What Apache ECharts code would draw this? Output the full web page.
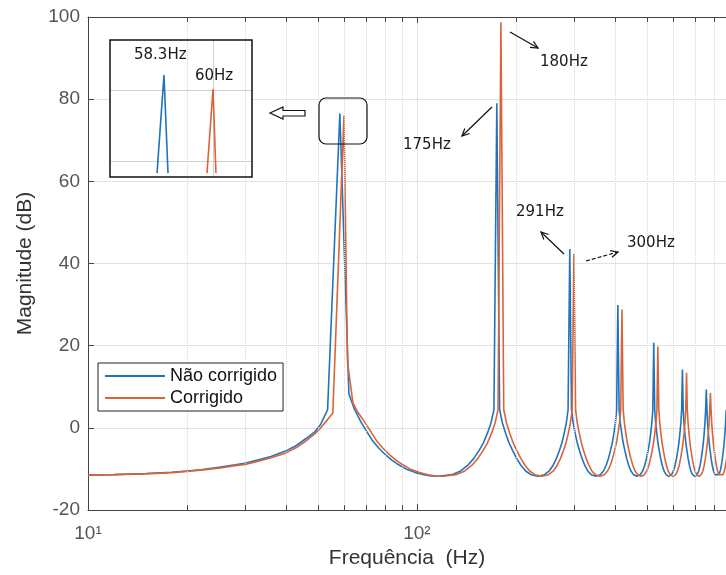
<!DOCTYPE html>
<html>
<head>
<meta charset="utf-8">
<script src="https://cdn.jsdelivr.net/npm/echarts@6/dist/echarts.min.js"></script>
<style>
html, body { margin: 0; padding: 0; background: #fff; }
#main { width: 726px; height: 575px; }
</style>
</head>
<body>
<div id="main"></div>
<script>
// valores (Hz, dB)
var naoCorrFreq = [10, 12, 15, 18, 20, 22, 25, 28, 30, 33, 36, 40, 43, 46, 49, 51, 53.5, 58.3,
  62.1, 64.5, 67.6, 70.5, 73.1, 76.5, 80.3, 84, 88, 93, 99, 105, 110, 116.6,
  127.7, 135.8, 142.8, 148.7, 154.5, 159.2, 163.8, 167.9, 171.4, 174.9,
  178.4, 181.9, 186.0, 190.6, 195.3, 201.1, 207.0, 214.0, 222.1, 233.2,
  244.3, 252.4, 259.4, 265.3, 271.1, 275.8, 280.4, 284.5, 288.0, 291.5,
  295.0, 298.5, 302.6, 307.2, 311.9, 317.7, 323.6, 330.6, 338.7, 349.8,
  360.9, 369.0, 376.0, 381.9, 387.7, 392.4, 397.0, 401.1, 404.6, 408.1,
  411.6, 415.1, 419.2, 423.8, 428.5, 434.3, 440.2, 447.2, 455.3, 466.4,
  477.5, 485.6, 492.6, 498.5, 504.3, 509.0, 513.6, 517.7, 521.2, 524.7,
  528.2, 531.7, 535.8, 540.4, 545.1, 550.9, 556.8, 563.8, 571.9, 583.0,
  594.1, 602.2, 609.2, 615.1, 620.9, 625.6, 630.2, 634.3, 637.8, 641.3,
  644.8, 648.3, 652.4, 657.0, 661.7, 667.5, 673.4, 680.4, 688.5, 699.6,
  710.7, 718.8, 725.8, 731.7, 737.5, 742.2, 746.8, 750.9, 754.4, 757.9,
  761.4, 764.9, 769.0, 773.6, 778.3, 784.1, 790.0, 797.0, 805.1, 816.2,
  827.3, 835.4, 842.4, 848.3, 854.1, 858.8, 863.4, 867.5, 871.0];
var naoCorrMag = [-11.5, -11.4, -11.1, -10.8, -10.5, -10.2, -9.6, -9.0, -8.6, -7.8, -7.0, -5.6, -4.3, -2.6, -0.9, 0.9, 4.4, 76.5,
  8.3, 4.6, 1.4, -1.0, -3.0, -4.9, -6.6, -7.9, -9.0, -10.1, -10.9, -11.4, -11.7, -11.8,
  -11.4, -10.5, -9.1, -7.5, -5.5, -3.7, -1.3, 1.2, 4.4, 79.0,
  4.4, 1.2, -1.3, -3.7, -5.5, -7.5, -9.1, -10.5, -11.4, -11.8,
  -11.4, -10.5, -9.1, -7.5, -5.5, -3.7, -1.3, 1.2, 4.4, 43.5,
  4.4, 1.2, -1.3, -3.7, -5.5, -7.5, -9.1, -10.5, -11.4, -11.8,
  -11.4, -10.5, -9.1, -7.5, -5.5, -3.7, -1.3, 1.2, 4.4, 29.9,
  4.4, 1.2, -1.3, -3.7, -5.5, -7.5, -9.1, -10.5, -11.4, -11.8,
  -11.4, -10.5, -9.1, -7.5, -5.5, -3.7, -1.3, 1.2, 4.4, 20.7,
  4.4, 1.2, -1.3, -3.7, -5.5, -7.5, -9.1, -10.5, -11.4, -11.8,
  -11.4, -10.5, -9.1, -7.5, -5.5, -3.7, -1.3, 1.2, 4.4, 14.2,
  4.4, 1.2, -1.3, -3.7, -5.5, -7.5, -9.1, -10.5, -11.4, -11.8,
  -11.4, -10.5, -9.1, -7.5, -5.5, -3.7, -1.3, 1.2, 4.4, 9.3,
  4.4, 1.2, -1.3, -3.7, -5.5, -7.5, -9.1, -10.5, -11.4, -11.8,
  -11.4, -10.5, -9.1, -7.5, -5.5, -3.7, -1.3, 1.2, 4.4];

var corrFreq = [10, 12, 15, 18, 20, 22, 25, 28, 30, 33, 36, 40, 43, 46, 49, 51, 53.5, 55.5, 60,
  61.5, 63.9, 66.4, 69.6, 72.5, 75.2, 78.7, 82.6, 86.4, 90.6, 95.7, 101.9, 108, 113.2, 120,
  131.4, 139.8, 147, 153, 159, 163.8, 168.6, 172.8, 176.4, 180,
  183.6, 187.2, 191.4, 196.2, 201, 207, 213, 220.2, 228.6, 240,
  251.4, 259.8, 267, 273, 279, 283.8, 288.6, 292.8, 296.4, 300,
  303.6, 307.2, 311.4, 316.2, 321, 327, 333, 340.2, 348.6, 360,
  371.4, 379.8, 387, 393, 399, 403.8, 408.6, 412.8, 416.4, 420,
  423.6, 427.2, 431.4, 436.2, 441, 447, 453, 460.2, 468.6, 480,
  491.4, 499.8, 507, 513, 519, 523.8, 528.6, 532.8, 536.4, 540,
  543.6, 547.2, 551.4, 556.2, 561, 567, 573, 580.2, 588.6, 600,
  611.4, 619.8, 627, 633, 639, 643.8, 648.6, 652.8, 656.4, 660,
  663.6, 667.2, 671.4, 676.2, 681, 687, 693, 700.2, 708.6, 720,
  731.4, 739.8, 747, 753, 759, 763.8, 768.6, 772.8, 776.4, 780,
  783.6, 787.2, 791.4, 796.2, 801, 807, 813, 820.2, 828.6, 840,
  851.4, 859.8, 867, 873];
var corrMag = [-11.5, -11.4, -11.2, -10.9, -10.6, -10.3, -9.8, -9.2, -8.9, -8.1, -7.3, -6.1, -4.8, -3.2, -1.4, 0.0, 2.0, 3.6, 76.0,
  16.0, 6.0, 3.6, 1.2, -1.0, -3.0, -4.9, -6.6, -7.9, -9.0, -10.1, -10.9, -11.4, -11.7, -11.8,
  -11.4, -10.5, -9.1, -7.5, -5.5, -3.7, -1.3, 1.2, 4.4, 98.7,
  4.4, 1.2, -1.3, -3.7, -5.5, -7.5, -9.1, -10.5, -11.4, -11.8,
  -11.4, -10.5, -9.1, -7.5, -5.5, -3.7, -1.3, 1.2, 4.4, 42.3,
  4.4, 1.2, -1.3, -3.7, -5.5, -7.5, -9.1, -10.5, -11.4, -11.8,
  -11.4, -10.5, -9.1, -7.5, -5.5, -3.7, -1.3, 1.2, 4.4, 28.8,
  4.4, 1.2, -1.3, -3.7, -5.5, -7.5, -9.1, -10.5, -11.4, -11.8,
  -11.4, -10.5, -9.1, -7.5, -5.5, -3.7, -1.3, 1.2, 4.4, 19.8,
  4.4, 1.2, -1.3, -3.7, -5.5, -7.5, -9.1, -10.5, -11.4, -11.8,
  -11.4, -10.5, -9.1, -7.5, -5.5, -3.7, -1.3, 1.2, 4.4, 13.4,
  4.4, 1.2, -1.3, -3.7, -5.5, -7.5, -9.1, -10.5, -11.4, -11.8,
  -11.4, -10.5, -9.1, -7.5, -5.5, -3.7, -1.3, 1.2, 4.4, 8.5,
  4.4, 1.2, -1.3, -3.7, -5.5, -7.5, -9.1, -10.5, -11.4, -11.8,
  -11.4, -10.5, -9.1, -7.5];

// detalhe (zoom) dos picos de 58.3 Hz e 60 Hz
var zoomNaoFreq = [58.06, 58.3, 58.44];
var zoomNaoMag = [73.66, 76.42, 73.66];
var zoomCorrFreq = [59.79, 60, 60.1];
var zoomCorrMag = [73.66, 76.03, 73.66];
var zoomGridMag = [74, 76];
var zoomGridFreq = [60];

var minorFreqs = [20, 30, 40, 50, 60, 70, 80, 90, 200, 300, 400, 500, 600, 700, 800];
var seriesNames = ['Não corrigido', 'Corrigido'];
var colors = ['#1f74bd', '#d9643a'];

var xMin = 10, xMax = 870, yMin = -20, yMax = 100;
var zx = [56.43, 61.35], zy = [73.55, 77.41];

function zip(a, b) { return a.map(function (v, i) { return [v, b[i]]; }); }

var fontFam = '"Liberation Sans", Arial, sans-serif';

// grid secundário (pontilhado) e ticks menores
var minorLines = [];
minorFreqs.forEach(function (f) {
  minorLines.push([{ coord: [f, yMin] }, { coord: [f, yMax] }]);
});
var minorTicks = [];
minorFreqs.forEach(function (f) {
  minorTicks.push([{ coord: [f, yMin] }, { coord: [f, yMin + 1.2] }]);
  minorTicks.push([{ coord: [f, yMax] }, { coord: [f, yMax - 1.2] }]);
});

var zoomLines = [];
zoomGridMag.forEach(function (m) { zoomLines.push([{ coord: [zx[0], m] }, { coord: [zx[1], m] }]); });
zoomGridFreq.forEach(function (f) { zoomLines.push([{ coord: [f, zy[0]] }, { coord: [f, zy[1]] }]); });

function arrow(x1, y1, x2, y2, dashed) {
  var a = Math.atan2(y2 - y1, x2 - x1), L = 8, s = 0.45;
  return [
    { type: 'line', z: 20, shape: { x1: x1, y1: y1, x2: x2, y2: y2 },
      style: { stroke: '#111', lineWidth: 1.2, lineDash: dashed ? [4, 2] : null } },
    { type: 'polyline', z: 20, shape: { points: [
        [x2 - L * Math.cos(a - s), y2 - L * Math.sin(a - s)], [x2, y2],
        [x2 - L * Math.cos(a + s), y2 - L * Math.sin(a + s)]] },
      style: { stroke: '#111', fill: null, lineWidth: 1.2 } }
  ];
}
function label(txt, x, y) {
  return { type: 'text', z: 20, x: x, y: y,
    style: { text: txt, font: '15px "DejaVu Sans"', fill: '#1a1a1a', verticalAlign: 'middle' } };
}

var graphics = [
  { type: 'rect', z: 5, shape: { x: 110, y: 40, width: 142, height: 137 },
    style: { fill: '#fff', stroke: null } },
  { type: 'rect', z: 15, shape: { x: 110, y: 40, width: 142, height: 137 },
    style: { fill: null, stroke: '#111', lineWidth: 1.5 } },
  { type: 'rect', z: 20, shape: { x: 319, y: 98, width: 48, height: 46, r: 7 },
    style: { fill: null, stroke: '#111', lineWidth: 1.2 } },
  { type: 'polygon', z: 20, shape: { points: [[270, 113], [283, 107], [283, 110.5], [305, 110.5], [305, 116], [283, 116], [283, 119]] },
    style: { fill: '#fff', stroke: '#111', lineWidth: 1.2 } },
  label('58.3Hz', 134, 55),
  label('60Hz', 195, 76),
  label('180Hz', 540, 62),
  label('175Hz', 403, 145),
  label('291Hz', 516, 212),
  label('300Hz', 627, 243)
].concat(arrow(510, 32, 538, 48), arrow(492, 107, 462, 136),
  arrow(564, 254, 541, 232), arrow(586, 261, 618, 252, true));

var chart = echarts.init(document.getElementById('main'));
var option = {
  animation: false,
  backgroundColor: '#fff',
  textStyle: { fontFamily: fontFam },
  grid: [
    { left: 88, top: 17, width: 640, height: 493 },
    { left: 110, top: 40, width: 142, height: 137 }
  ],
  legend: {
    data: seriesNames,
    orient: 'vertical',
    left: 98, top: 363,
    icon: 'rect', itemWidth: 60, itemHeight: 2, itemGap: 4,
    padding: [4, 6, 4, 7],
    backgroundColor: '#fff', borderColor: '#222', borderWidth: 1,
    textStyle: { fontSize: 18, color: '#111', fontFamily: fontFam },
    z: 20
  },
  xAxis: [
    { type: 'log', logBase: 10, gridIndex: 0, min: xMin, max: xMax,
      name: 'Frequência  (Hz)', nameLocation: 'middle', nameGap: 38,
      nameTextStyle: { fontSize: 21, color: '#333', fontFamily: fontFam },
      axisLine: { onZero: false, lineStyle: { color: '#444', width: 1 } },
      axisTick: { inside: true, length: 6, lineStyle: { color: '#444' } },
      axisLabel: { fontSize: 19, color: '#555', margin: 14, showMaxLabel: false,
        formatter: function (v) {
          var e = Math.round(Math.log10(v));
          return e === 1 ? '10¹' : (e === 2 ? '10²' : '');
        } },
      splitLine: { show: true, lineStyle: { color: '#e2e2e2', width: 1 } } },
    { type: 'log', logBase: 10, gridIndex: 0, position: 'top', min: xMin, max: xMax,
      axisLine: { onZero: false, lineStyle: { color: '#444', width: 1 } },
      axisTick: { inside: true, length: 6, lineStyle: { color: '#444' } },
      axisLabel: { show: false }, splitLine: { show: false } },
    { type: 'value', gridIndex: 1, min: zx[0], max: zx[1], show: false }
  ],
  yAxis: [
    { type: 'value', gridIndex: 0, min: yMin, max: yMax, interval: 20,
      name: 'Magnitude (dB)', nameLocation: 'middle', nameGap: 52,
      nameTextStyle: { fontSize: 21, color: '#333', fontFamily: fontFam },
      axisLine: { show: true, onZero: false, lineStyle: { color: '#444', width: 1 } },
      axisTick: { show: true, inside: true, length: 6, lineStyle: { color: '#444' } },
      axisLabel: { fontSize: 19, color: '#555', margin: 8 },
      splitLine: { show: true, lineStyle: { color: '#e2e2e2', width: 1 } } },
    { type: 'value', gridIndex: 1, min: zy[0], max: zy[1], show: false, splitLine: { show: false } }
  ],
  graphic: { elements: graphics },
  series: [
    { type: 'line', name: '_grid', xAxisIndex: 0, yAxisIndex: 0, data: [], z: 1, silent: true,
      markLine: { silent: true, symbol: 'none', label: { show: false }, animation: false,
        lineStyle: { color: '#d6d6d6', type: 'dotted', width: 1 }, data: minorLines } },
    { type: 'line', name: '_ticks', xAxisIndex: 0, yAxisIndex: 0, data: [], z: 1, silent: true,
      markLine: { silent: true, symbol: 'none', label: { show: false }, animation: false,
        lineStyle: { color: '#444', type: 'solid', width: 1 }, data: minorTicks } },
    { type: 'line', name: seriesNames[0], xAxisIndex: 0, yAxisIndex: 0, z: 3,
      data: zip(naoCorrFreq, naoCorrMag), showSymbol: false, symbol: 'none',
      color: colors[0], lineStyle: { color: colors[0], width: 1.6 } },
    { type: 'line', name: seriesNames[1], xAxisIndex: 0, yAxisIndex: 0, z: 3,
      data: zip(corrFreq, corrMag), showSymbol: false, symbol: 'none',
      color: colors[1], lineStyle: { color: colors[1], width: 1.6 } },
    { type: 'line', name: '_zoomGrid', xAxisIndex: 2, yAxisIndex: 1, data: [], z: 10, silent: true,
      markLine: { silent: true, symbol: 'none', label: { show: false }, animation: false,
        lineStyle: { color: '#cfcfcf', type: 'solid', width: 1 }, data: zoomLines } },
    { type: 'line', name: '_zoomNao', xAxisIndex: 2, yAxisIndex: 1, z: 11,
      data: zip(zoomNaoFreq, zoomNaoMag), showSymbol: false, symbol: 'none',
      lineStyle: { color: colors[0], width: 1.6 } },
    { type: 'line', name: '_zoomCorr', xAxisIndex: 2, yAxisIndex: 1, z: 11,
      data: zip(zoomCorrFreq, zoomCorrMag), showSymbol: false, symbol: 'none',
      lineStyle: { color: colors[1], width: 1.6 } }
  ]
};
chart.setOption(option);
</script>
</body>
</html>
